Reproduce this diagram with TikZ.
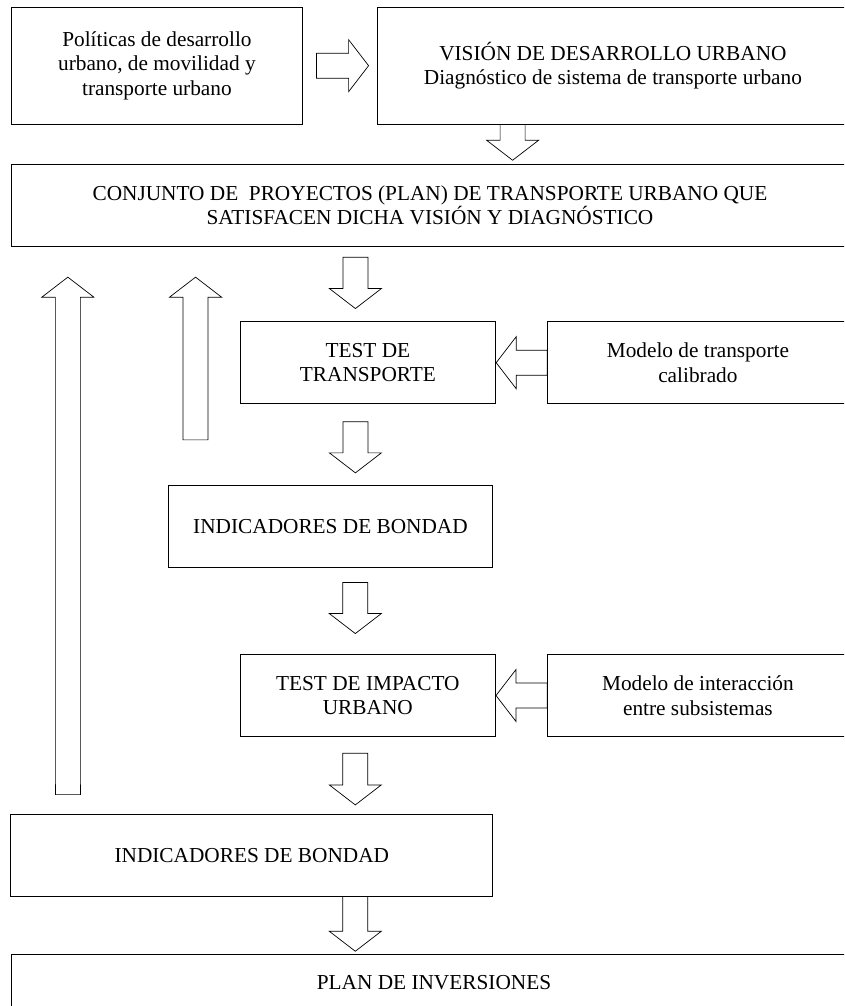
\documentclass[tikz,border=0pt]{standalone}
\usepackage{fontspec}
\setmainfont{Liberation Serif}
\usetikzlibrary{calc}

\tikzset{
  box/.style={draw, line width=0.9pt, align=center, inner sep=0pt,
    font=\fontsize{21.3}{24.5}\selectfont},
  fat/.style={line width=0.7pt, to path={let \p1=(\tikztostart), \p2=(\tikztotarget),
      \p3=($(\p2)!20pt!(\p1)$) in
      ($(\p1)!12.5pt!90:(\p2)$) -- ($(\p3)!12.5pt!90:(\p2)$) -- ($(\p3)!26pt!90:(\p2)$)
      -- (\p2) -- ($(\p3)!26pt!-90:(\p2)$) -- ($(\p3)!12.5pt!-90:(\p2)$)
      -- ($(\p1)!12.5pt!-90:(\p2)$) -- cycle}}
}

\begin{document}
\begin{tikzpicture}[x=1pt, y=-1pt]
\useasboundingbox (0,0) rectangle (844,1006);
\clip (0,0) rectangle (844,1006);

% boxes
\node[box, minimum width=291.7pt, minimum height=116.7pt] (pol) at (156.9,65.7) {Políticas de desarrollo\\urbano, de movilidad y\\transporte urbano};
\node[box, minimum width=470.3pt, minimum height=116.7pt] (vis) at (612.9,65.7) {VISIÓN DE DESARROLLO URBANO\\Diagnóstico de sistema de transporte urbano};
\node[box, minimum width=838pt, minimum height=82.4pt] (conj) at (430,205.5) {CONJUNTO DE\ \ PROYECTOS (PLAN) DE TRANSPORTE URBANO QUE\\SATISFACEN DICHA VISIÓN Y DIAGNÓSTICO};
\node[box, minimum width=255.7pt, minimum height=82pt] (test) at (367.9,362.7) {TEST DE\\TRANSPORTE};
\node[box, minimum width=300.3pt, minimum height=82pt] (cal) at (697.9,362.7) {Modelo de transporte\\calibrado};
\node[box, minimum width=324pt, minimum height=81.6pt] (ind1) at (330.5,526.5) {INDICADORES DE BONDAD};
\node[box, minimum width=255.5pt, minimum height=81.6pt] (imp) at (367.8,695.5) {TEST DE IMPACTO\\URBANO};
\node[box, minimum width=300.3pt, minimum height=81.6pt] (inter) at (697.9,695.5) {Modelo de interacción\\entre subsistemas};
\node[box, minimum width=481.9pt, minimum height=81.7pt] (ind2) at (251.8,855.2) {INDICADORES DE BONDAD};
\node[box, minimum width=846pt, minimum height=58pt] (plan) at (434,983) {PLAN DE INVERSIONES};

% block arrows
\draw[fat] ($(pol.east)+(13.3,0)$) to ($(vis.west)+(-8.7,0)$);
\draw[fat] ($(vis.south west)+(135.3,0)$) to ($(vis.south west |- conj.north)+(135.3,-3.6)$);
\draw[fat] ($(test.north |- conj.south)+(-12.5,10)$) to ($(test.north)+(-12.5,-12.7)$);
\draw[fat] ($(test.south)+(-12.5,17.6)$) to ($(test.south |- ind1.north)+(-12.5,-12.4)$);
\draw[fat] ($(imp.north |- ind1.south)+(-12.5,14.7)$) to ($(imp.north)+(-12.5,-20.7)$);
\draw[fat] ($(imp.south)+(-12.5,16.4)$) to ($(imp.south |- ind2.north)+(-12.5,-9)$);
\draw[fat] ($(imp.south |- ind2.south)+(-12.5,0)$) to ($(imp.south |- plan.north)+(-12.5,-2.3)$);
\draw[fat] (cal.west) to (test.east);
\draw[fat] (inter.west) to (imp.east);

% feedback
\draw[fat] ($(ind2.north west)+(57.5,-19.3)$) to ($(conj.south west)+(57.3,30)$);
\draw[fat] ($(ind1.north west)+(27.5,-45.4)$) to ($(conj.south west)+(185,30)$);

\end{tikzpicture}
\end{document}
